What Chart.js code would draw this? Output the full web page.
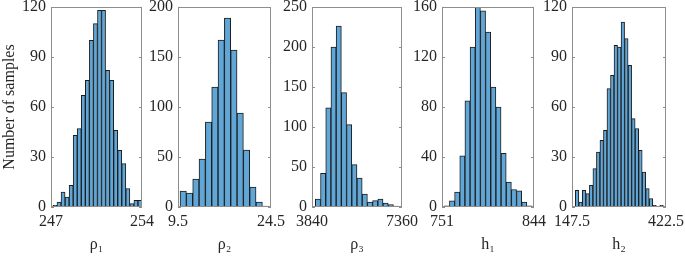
<!DOCTYPE html>
<html>
<head>
<meta charset="utf-8">
<script src="https://cdn.jsdelivr.net/npm/chart.js@4/dist/chart.umd.min.js"></script>
<style>
  html, body { margin: 0; padding: 0; background: #ffffff; }
  #wrap { position: relative; width: 685px; height: 256px; overflow: hidden; background: #fff; }
  #wrap canvas { position: absolute; top: 0; }
</style>
</head>
<body>
<div id="wrap">
  <canvas id="c1"></canvas>
  <canvas id="c2"></canvas>
  <canvas id="c3"></canvas>
  <canvas id="c4"></canvas>
  <canvas id="c5"></canvas>
</div>
<script>
// ---------- data ----------
const yAxisTitle = 'Number of samples';

const rho1Label = 'ρ₁';
const rho1Counts = [1, 3, 9, 6, 13, 43, 47, 67, 76, 100, 110, 118, 118, 82, 76, 46, 34, 26, 11, 2, 4, 4];
const rho1BinRange = [247.15, 254.0];
const rho1XTicks = [247, 254];
const rho1YTicks = [0, 30, 60, 90, 120];

const rho2Label = 'ρ₂';
const rho2Counts = [16, 14, 28, 48, 85, 120, 167, 189, 157, 94, 57, 20, 5, 1];
const rho2BinRange = [9.83, 24.13];
const rho2XTicks = [9.5, 24.5];
const rho2YTicks = [0, 50, 100, 150, 200];

const rho3Label = 'ρ₃';
const rho3Counts = [10, 42, 124, 200, 226, 143, 103, 53, 36, 16, 6, 8, 10, 5, 3, 1];
const rho3BinRange = [3970, 7228];
const rho3XTicks = [3840, 7360];
const rho3YTicks = [0, 50, 100, 150, 200, 250];

const h1Label = 'h₁';
const h1Counts = [1, 5, 12, 41, 85, 128, 160, 157, 140, 96, 80, 43, 20, 14, 13, 4, 1];
const h1BinRange = [753.3, 842.0];
const h1XTicks = [751, 844];
const h1YTicks = [0, 40, 80, 120, 160];

const h2Label = 'h₂';
const h2Counts = [10, 3, 10, 8, 13, 23, 33, 40, 46, 71, 79, 97, 96, 111, 101, 85, 53, 47, 34, 21, 11, 5, 1, 0, 1];
const h2BinRange = [157.2, 414.6];
const h2XTicks = [147.5, 422.5];
const h2YTicks = [0, 30, 60, 90, 120];

// ---------- layout / style ----------
const FONT = "'Liberation Serif', 'Times New Roman', serif";
const TEXT = '#262626';
const FACE = 'rgb(96,166,214)';
const EDGE = '#1c1c1c';
const BOX = '#8e8e8e';
const FS = 16;

const panels = [
  { id: 'c1', label: rho1Label, counts: rho1Counts, range: rho1BinRange, xt: rho1XTicks, yt: rho1YTicks, left: 0,   yw: 51, plotW: 91, title: true },
  { id: 'c2', label: rho2Label, counts: rho2Counts, range: rho2BinRange, xt: rho2XTicks, yt: rho2YTicks, left: 136, yw: 42, plotW: 93 },
  { id: 'c3', label: rho3Label, counts: rho3Counts, range: rho3BinRange, xt: rho3XTicks, yt: rho3YTicks, left: 270, yw: 42, plotW: 90 },
  { id: 'c4', label: h1Label,   counts: h1Counts,   range: h1BinRange,   xt: h1XTicks,   yt: h1YTicks,   left: 400, yw: 42, plotW: 92 },
  { id: 'c5', label: h2Label,   counts: h2Counts,   range: h2BinRange,   xt: h2XTicks,   yt: h2YTicks,   left: 530, yw: 42, plotW: 94 },
];
const H = 256, TOP = 7, BOTTOM = 207, PADR = 20;

const boxPlugin = {
  id: 'box',
  afterDraw(chart) {
    const { ctx, chartArea: a } = chart;
    const ys = chart.scales.y;
    ctx.save();
    ctx.strokeStyle = BOX;
    ctx.lineWidth = 1;
    ctx.strokeRect(Math.round(a.left) + 0.5, Math.round(a.top) + 0.5,
                   Math.round(a.right - a.left) - 1, Math.round(a.bottom - a.top) - 1);
    ctx.beginPath();
    ys.ticks.forEach(t => {
      const y = Math.round(ys.getPixelForValue(t.value)) + 0.5;
      ctx.moveTo(a.left, y); ctx.lineTo(a.left + 3, y);
      ctx.moveTo(a.right - 3, y); ctx.lineTo(a.right, y);
    });
    ctx.stroke();
    ctx.restore();
  }
};

panels.forEach(p => {
  const cv = document.getElementById(p.id);
  const W = p.yw + p.plotW + PADR;
  cv.width = W; cv.height = H;
  cv.style.left = p.left + 'px';
  cv.style.width = W + 'px'; cv.style.height = H + 'px';

  const n = p.counts.length;
  const bw = (p.range[1] - p.range[0]) / n;
  const data = p.counts.map((c, i) => ({ x: p.range[0] + bw * (i + 0.5), y: c }));

  new Chart(cv, {
    type: 'bar',
    data: {
      datasets: [{
        data: data,
        backgroundColor: FACE,
        borderColor: EDGE,
        borderWidth: 1,
        borderSkipped: false,
        barPercentage: 1.0,
        categoryPercentage: 1.0,
        grouped: false
      }]
    },
    options: {
      responsive: false,
      animation: false,
      devicePixelRatio: 1,
      layout: { padding: { left: 0, right: PADR, top: TOP, bottom: 0 } },
      plugins: { legend: { display: false }, tooltip: { enabled: false } },
      scales: {
        x: {
          type: 'linear',
          offset: false,
          min: p.xt[0], max: p.xt[p.xt.length - 1],
          grid: { display: false, drawTicks: false, offset: false },
          border: { display: false },
          afterBuildTicks: s => { s.ticks = p.xt.map(v => ({ value: v })); },
          ticks: {
            autoSkip: false, maxRotation: 0, minRotation: 0, padding: 5,
            color: TEXT, font: { family: FONT, size: FS },
            callback: v => String(v)
          },
          title: { display: true, text: p.label, color: TEXT, font: { family: FONT, size: FS }, padding: { top: 0, bottom: 2 } },
          afterFit: s => { s.height = H - BOTTOM; s.paddingLeft = 0; s.paddingRight = 0; }
        },
        y: {
          type: 'linear',
          min: p.yt[0], max: p.yt[p.yt.length - 1],
          grid: { display: false, drawTicks: false },
          border: { display: false },
          afterBuildTicks: s => { s.ticks = p.yt.map(v => ({ value: v })); },
          ticks: { padding: 5, color: TEXT, font: { family: FONT, size: FS }, callback: v => String(v) },
          title: { display: !!p.title, text: yAxisTitle, color: TEXT, font: { family: FONT, size: FS }, padding: 0 },
          afterFit: s => { s.width = p.yw; s.paddingTop = 0; s.paddingBottom = 0; }
        }
      }
    },
    plugins: [boxPlugin]
  });
});
</script>
</body>
</html>
